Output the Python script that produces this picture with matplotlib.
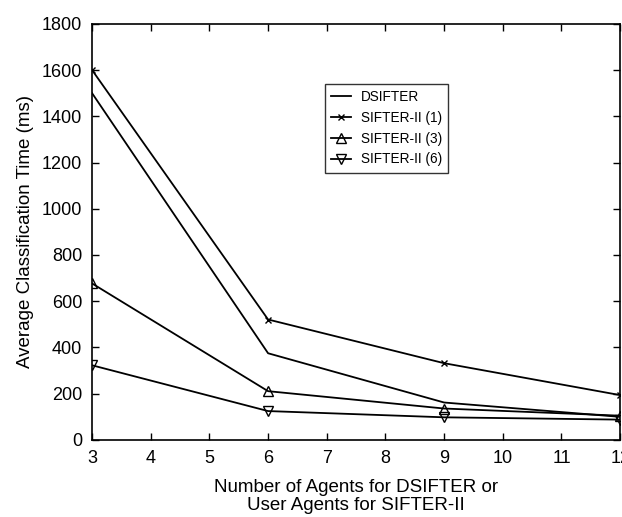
import matplotlib
matplotlib.use("Agg")
import matplotlib.pyplot as plt

plt.rcParams['font.family'] = ['Liberation Sans', 'DejaVu Sans']

agents = [3, 6, 9, 12]
dsifter = [1500, 375, 162, 100]
sifter1 = [1600, 521, 332, 194]
sifter3 = [677, 211, 136, 105]
sifter6 = [323, 125, 98, 88]

xticks = list(range(3, 13))
yticks = list(range(0, 1801, 200))

fig = plt.figure(figsize=(6.22, 5.17), dpi=100)
ax = fig.add_axes([0.148, 0.149, 0.849, 0.805])

lw = 1.3
ax.plot(agents, dsifter, color='black', lw=lw, label='DSIFTER')
ax.plot(agents, sifter1, color='black', lw=lw, marker='x', ms=5, mew=1.0,
        label='SIFTER-II (1)')
ax.plot(agents, sifter3, color='black', lw=lw, marker='^', ms=6.5, mfc='none',
        mew=1.0, label='SIFTER-II (3)')
ax.plot(agents, sifter6, color='black', lw=lw, marker='v', ms=6.5, mfc='none',
        mew=1.0, label='SIFTER-II (6)')

ax.set_xlim(3, 12)
ax.set_ylim(0, 1800)
ax.set_xticks(xticks)
ax.set_yticks(yticks)
ax.tick_params(direction='in', top=True, right=True, labelsize=13, length=5,
               width=1, pad=7)
for s in ax.spines.values():
    s.set_linewidth(1.2)

ax.set_xlabel('Number of Agents for DSIFTER or\nUser Agents for SIFTER-II',
              fontsize=13.5, labelpad=9, linespacing=1.1)
ax.set_ylabel('Average Classification Time (ms)', fontsize=13.5, labelpad=6)

leg = ax.legend(loc='upper left', bbox_to_anchor=(0.428, 0.872), fontsize=9.8,
                frameon=True, fancybox=False, edgecolor='black',
                handlelength=1.5, borderpad=0.45, labelspacing=0.5,
                handletextpad=0.7)
leg.get_frame().set_linewidth(1.0)

fig.savefig('out.png', dpi=100)
